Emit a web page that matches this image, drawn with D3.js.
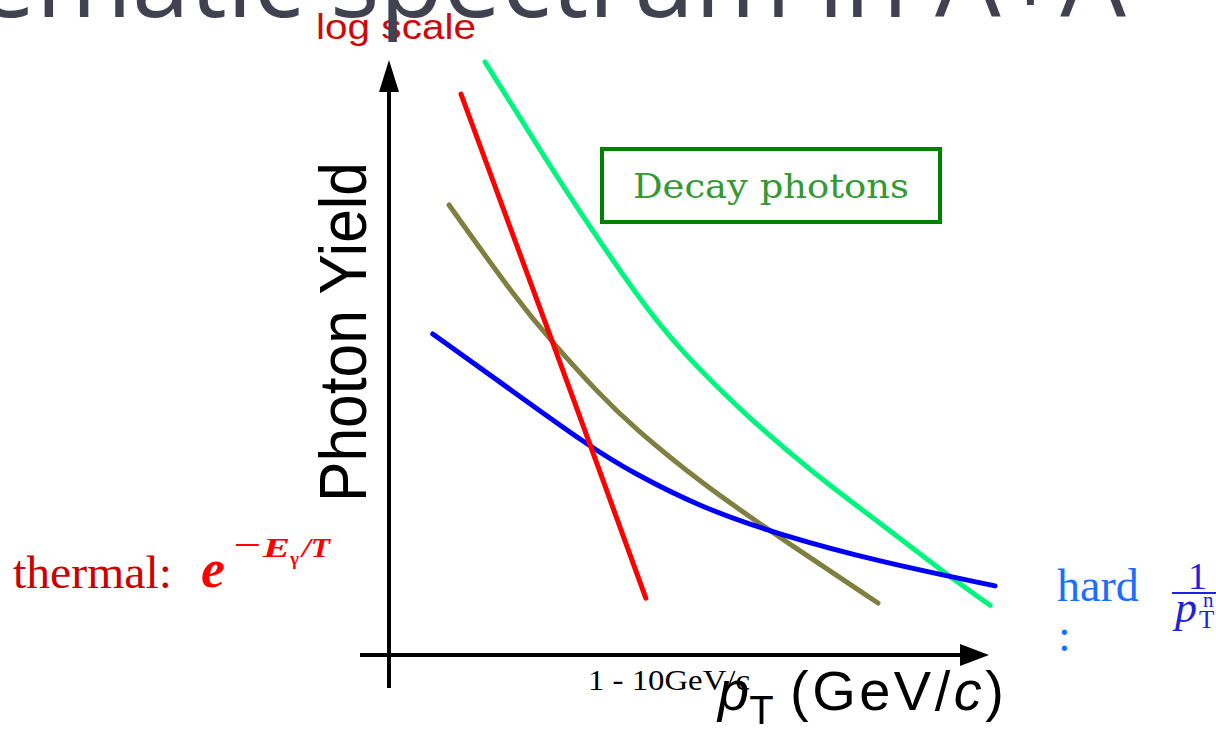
<!DOCTYPE html>
<html>
<head>
<meta charset="utf-8">
<script src="https://cdn.jsdelivr.net/npm/d3@7"></script>
<style>
  html, body { margin: 0; padding: 0; background: #fff; }
  svg { display: block; }
</style>
</head>
<body>
<svg id="chart" width="1216" height="742"></svg>
<script>
// Schematic photon pT spectra, yield on a log scale.
// Each series: [pT (GeV/c), relative yield]
const thermal = [[1.2, 0.35], [1.85, 0.0203], [2.73, 4.4e-4], [3.38, 2.5e-5], [4.28, 4.6e-7]];
const decay = [[1.6, 0.83], [2.52, 0.078], [3.1, 0.0178], [4.18, 1.39e-3], [4.85, 3.6e-4],
               [5.97, 6.0e-5], [7.07, 1.33e-5], [8.18, 3.47e-6], [9.3, 8.6e-7], [10.02, 3.8e-7]];
const preEq = [[1.0, 0.0178], [2.13, 1.39e-3], [2.73, 4.4e-4], [3.52, 1.08e-4], [4.07, 4.57e-5],
               [5.18, 1.04e-5], [6.52, 2.32e-6], [8.15, 4.04e-7]];
const hard = [[0.73, 5.56e-4], [1.85, 1.53e-4], [3.35, 2.67e-5], [4.07, 1.33e-5], [5.18, 5.33e-6],
              [6.52, 2.51e-6], [8.18, 1.22e-6], [10.1, 6.4e-7]];

const seriesList = [
  { name: "decay", data: decay, color: "#00f57f" },
  { name: "preEq", data: preEq, color: "#7f7f40" },
  { name: "hard", data: hard, color: "#0000f5" },
  { name: "thermal", data: thermal, color: "#ff0000" }
];

const svg = d3.select("#chart");

const x = d3.scaleLinear().domain([0, 10]).range([389, 989]);
const y = d3.scaleLog().domain([1e-7, 1]).range([655, 55]);

// Axes drawn as arrows
const axisX0 = x(0), axisY0 = y(1e-7);
const ax = svg.append("g").attr("class", "axes");
ax.append("line")
  .attr("x1", axisX0 - 29).attr("x2", 960)
  .attr("y1", axisY0).attr("y2", axisY0)
  .attr("stroke", "#000").attr("stroke-width", 4);
ax.append("path")
  .attr("d", `M${960},${axisY0 - 11}L${989},${axisY0}L${960},${axisY0 + 11}Z`)
  .attr("fill", "#000");
ax.append("line")
  .attr("x1", axisX0).attr("x2", axisX0)
  .attr("y1", axisY0 + 33).attr("y2", 90)
  .attr("stroke", "#000").attr("stroke-width", 4);
ax.append("path")
  .attr("d", `M${axisX0 - 10},${92}L${axisX0},${60}L${axisX0 + 10},${92}Z`)
  .attr("fill", "#000");

// Curves
const line = d3.line()
  .x(d => x(d[0]))
  .y(d => y(d[1]))
  .curve(d3.curveBasis);

svg.append("g").selectAll("path")
  .data(seriesList)
  .join("path")
  .attr("d", d => line(d.data))
  .attr("fill", "none")
  .attr("stroke", d => d.color)
  .attr("stroke-width", 5)
  .attr("stroke-linecap", "round");

// Decay photons box
svg.append("rect")
  .attr("x", 602).attr("y", 149).attr("width", 338).attr("height", 73)
  .attr("fill", "none").attr("stroke", "#008000").attr("stroke-width", 4);
svg.append("text")
  .attr("x", 771).attr("y", 198)
  .attr("text-anchor", "middle")
  .attr("font-family", "DejaVu Serif")
  .attr("font-size", 33)
  .attr("fill", "#339933")
  .attr("textLength", 276).attr("lengthAdjust", "spacingAndGlyphs")
  .text("Decay photons");

// Axis titles
svg.append("text")
  .attr("transform", "translate(366,502) rotate(-90)")
  .attr("font-family", "Liberation Sans")
  .attr("font-size", 66)
  .attr("fill", "#000")
  .attr("textLength", 340).attr("lengthAdjust", "spacingAndGlyphs")
  .text("Photon Yield");

const xt = svg.append("text")
  .attr("x", 718).attr("y", 710)
  .attr("font-family", "Liberation Sans")
  .attr("font-size", 56)
  .attr("fill", "#000");
xt.append("tspan").attr("font-style", "italic").text("p");
xt.append("tspan").attr("font-size", 40).attr("dy", 14).text("T");
const xu = svg.append("text")
  .attr("x", 790).attr("y", 710)
  .attr("font-family", "Liberation Sans")
  .attr("font-size", 56)
  .attr("letter-spacing", 3.5)
  .attr("fill", "#000");
xu.append("tspan").text("(GeV/");
xu.append("tspan").attr("font-style", "italic").text("c");
xu.append("tspan").text(")");

svg.append("text")
  .attr("x", 588).attr("y", 690)
  .attr("font-family", "Liberation Serif")
  .attr("font-size", 30)
  .attr("fill", "#000")
  .attr("textLength", 162).attr("lengthAdjust", "spacingAndGlyphs")
  .text("1 - 10GeV/c");

// log scale note and slide heading
svg.append("text")
  .attr("x", 316).attr("y", 39)
  .attr("font-family", "Liberation Sans")
  .attr("font-size", 35)
  .attr("fill", "#cc0a0a")
  .attr("textLength", 160).attr("lengthAdjust", "spacingAndGlyphs")
  .text("log scale");

svg.append("text")
  .attr("x", 1126).attr("y", 17)
  .attr("text-anchor", "end")
  .attr("font-family", "Open Sans")
  .attr("font-size", 104)
  .attr("fill", "#41414f")
  .text("Schematic spectrum in A+A");

// Thermal label
svg.append("text")
  .attr("x", 13).attr("y", 588)
  .attr("font-family", "Liberation Serif")
  .attr("font-size", 46)
  .attr("fill", "#cc0000")
  .attr("textLength", 159).attr("lengthAdjust", "spacingAndGlyphs")
  .text("thermal:");
const thermalExp = svg.append("g")
  .attr("font-family", "Liberation Serif")
  .attr("font-weight", "bold")
  .attr("fill", "#ff0000");
thermalExp.append("text").attr("x", 201).attr("y", 587)
  .attr("font-size", 54).attr("font-style", "italic").text("e");
thermalExp.append("text").attr("x", 233).attr("y", 555)
  .attr("font-size", 30).attr("textLength", 28).attr("lengthAdjust", "spacingAndGlyphs").text("\u2212");
thermalExp.append("text").attr("x", 263).attr("y", 557)
  .attr("font-size", 27).attr("font-style", "italic")
  .attr("textLength", 27).attr("lengthAdjust", "spacingAndGlyphs").text("E");
thermalExp.append("text").attr("x", 290).attr("y", 565)
  .attr("font-size", 19).text("\u03b3");
thermalExp.append("text").attr("x", 302).attr("y", 557)
  .attr("font-size", 27).attr("font-style", "italic")
  .attr("textLength", 28).attr("lengthAdjust", "spacingAndGlyphs").text("/T");

// Hard label
svg.append("text")
  .attr("x", 1057).attr("y", 601)
  .attr("font-family", "Liberation Serif")
  .attr("font-size", 46)
  .attr("fill", "#1a6fff")
  .text("hard");
svg.append("text")
  .attr("x", 1058).attr("y", 651)
  .attr("font-family", "Liberation Serif")
  .attr("font-size", 46)
  .attr("fill", "#1a6fff")
  .text(":");
svg.append("line")
  .attr("x1", 1172).attr("x2", 1216).attr("y1", 593).attr("y2", 593)
  .attr("stroke", "#2020e0").attr("stroke-width", 2);
svg.append("text")
  .attr("x", 1188).attr("y", 589)
  .attr("font-family", "Liberation Serif")
  .attr("font-size", 38)
  .attr("fill", "#2020e0")
  .text("1");
const pn = svg.append("g")
  .attr("font-family", "Liberation Serif")
  .attr("fill", "#2020e0");
pn.append("text").attr("x", 1175).attr("y", 622)
  .attr("font-size", 44).attr("font-style", "italic").text("p");
pn.append("text").attr("x", 1199).attr("y", 628)
  .attr("font-size", 25).text("T");
pn.append("text").attr("x", 1203).attr("y", 607)
  .attr("font-size", 21).text("n");
</script>
</body>
</html>
